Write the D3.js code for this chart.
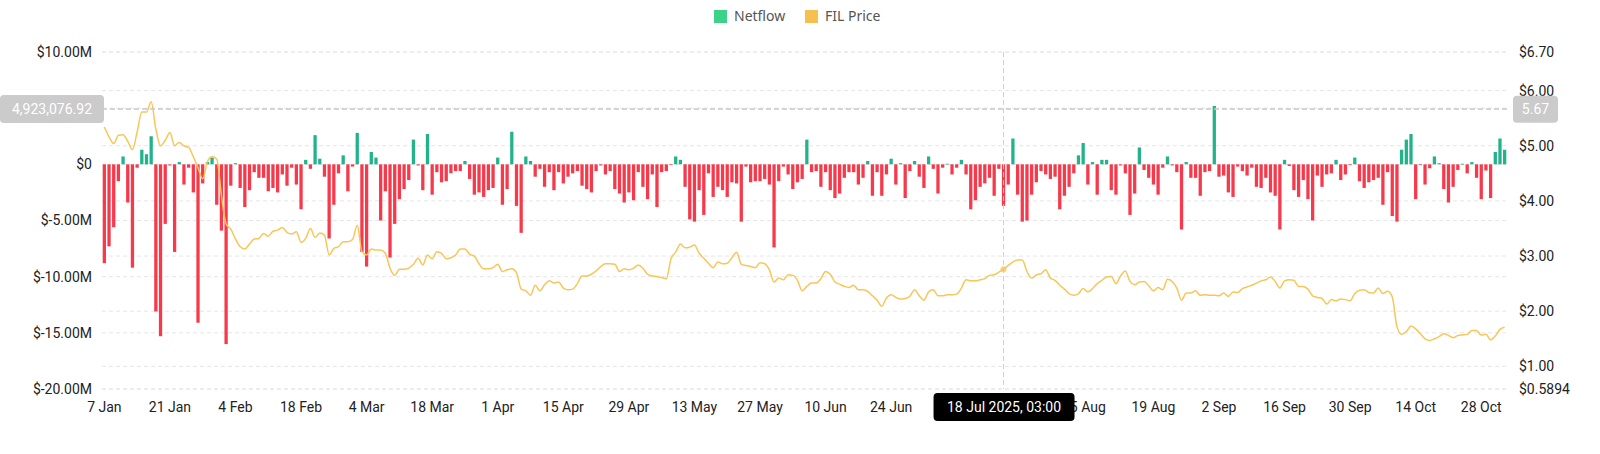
<!DOCTYPE html>
<html>
<head>
<meta charset="utf-8">
<script src="https://d3js.org/d3.v7.min.js"></script>
<style>
  html, body { margin: 0; padding: 0; background: #fff; }
  svg { display: block; }
  .axis text { font-family: Roboto, "DejaVu Sans", sans-serif; font-size: 14px; fill: #222; }
  .legend text { font-family: "Noto Sans", Inter, sans-serif; font-size: 14px; fill: #555; }
</style>
</head>
<body>
<svg width="1600" height="454"></svg>
<script>
// netflow per day, millions of USD (7 Jan 2025 .. 2 Nov 2025)
const netflow = [
  -8.8, -7.3, -5.6, -1.5, 0.7, -3.4, -9.2, -0.3, 1.3, 0.9,
  2.5, -13.1, -15.3, -5.3, -0.1, -7.8, 0.2, -1.8, -0.3, -2.5,
  -14.1, -1.7, 0.2, 0.6, -3.6, -5.9, -16.0, -1.9, 0.1, -2.1,
  -3.8, -2.3, -0.7, -1.2, -1.2, -2.4, -2.1, -2.5, -0.9, -1.9,
  -0.3, -1.8, -4.0, 0.4, -0.4, 2.6, 0.5, -1.1, -6.6, -3.6,
  -0.8, 0.8, -2.4, -0.2, 2.8, -7.8, -9.1, 1.1, 0.6, -5.0,
  -2.4, -8.3, -5.3, -3.1, -2.2, -1.4, 2.2, -0.1, -2.3, 2.7,
  -2.7, -0.7, -1.6, -1.5, -0.8, -0.6, -0.6, 0.3, -1.3, -2.7,
  -2.5, -2.9, -2.3, -2.1, 0.6, -3.6, -2.2, 2.9, -3.7, -6.1,
  0.7, 0.3, -1.1, -0.4, -2.0, -0.7, -2.3, -0.7, -1.7, -1.1,
  -0.8, -0.6, -1.9, -2.2, -2.5, -0.6, -0.1, -0.9, -0.6, -2.2,
  -2.6, -3.4, -2.5, -3.2, -0.7, -2.0, -3.1, -0.9, -3.8, -0.7,
  -0.6, -0.05, 0.7, 0.4, -2.0, -4.9, -5.1, -2.3, -4.5, -0.8,
  -2.9, -2.0, -2.3, -2.9, -1.6, -1.7, -5.1, -0.2, -1.6, -1.5,
  -1.5, -1.3, -1.8, -7.4, -1.5, -0.2, -0.9, -2.2, -1.6, -1.3,
  2.2, -0.7, -0.6, -2.0, -0.7, -2.3, -3.0, -2.6, -1.2, -0.7,
  -0.7, -1.8, -1.2, 0.3, -2.8, -0.7, -2.8, -0.9, 0.5, -1.8,
  0.1, -3.0, -0.6, 0.3, -1.1, -2.1, 0.7, -0.4, -2.6, -0.3,
  0.05, -0.9, -0.3, 0.4, -0.9, -4.0, -3.2, -2.0, -1.7, -1.2,
  -2.8, -0.4, -3.7, -1.8, 2.3, -2.7, -5.1, -5.0, -2.7, -1.6,
  -0.6, -0.9, -1.3, -1.1, -4.0, -2.8, -2.0, -0.8, 0.8, 1.9,
  -1.8, 0.2, -2.7, 0.4, 0.4, -2.3, -2.7, -0.1, -0.8, -4.5,
  -2.6, 1.5, -0.5, -1.2, -1.8, -2.7, -0.3, 0.7, -0.1, -0.7,
  -5.8, 0.2, -1.2, -1.2, -2.8, -0.7, -0.6, 5.2, -1.1, -1.0,
  -2.5, -2.9, -0.2, -0.6, -1.0, -0.3, -2.0, -2.1, -1.2, -2.5,
  -2.8, -5.8, 0.4, -0.15, -2.3, -2.9, -1.4, -3.1, -5.0, -1.0,
  -2.0, -0.9, -0.8, 0.4, -1.4, -0.9, -0.05, 0.6, -1.5, -2.1,
  -1.6, -1.4, -1.2, -3.6, -0.7, -4.6, -5.1, 1.3, 2.2, 2.7,
  -3.1, -0.05, -1.8, -0.35, 0.7, 0.1, -2.2, -3.4, -2.0, -0.5,
  0.05, -0.8, 0.2, -1.2, -3.1, -0.55, -3.0, 1.1, 2.3, 1.3
];

// FIL price per day, USD
const price = [
  5.34, 5.16, 5.04, 5.19, 5.20, 5.08, 4.93, 5.25, 5.61, 5.61,
  5.80, 5.30, 5.00, 5.10, 5.24, 5.00, 5.06, 5.00, 4.97, 4.80,
  4.60, 4.40, 4.71, 4.80, 4.76, 4.10, 3.58, 3.49, 3.31, 3.17,
  3.13, 3.22, 3.31, 3.32, 3.41, 3.36, 3.45, 3.47, 3.52, 3.43,
  3.40, 3.44, 3.25, 3.32, 3.50, 3.34, 3.42, 3.38, 3.02, 3.14,
  3.17, 3.26, 3.26, 3.30, 3.56, 3.08, 3.02, 3.13, 3.11, 3.11,
  3.05, 2.78, 2.65, 2.76, 2.76, 2.78, 2.85, 2.96, 2.84, 3.02,
  2.95, 3.08, 3.05, 2.95, 2.97, 3.02, 3.13, 3.13, 3.03, 3.00,
  2.86, 2.77, 2.77, 2.79, 2.85, 2.72, 2.75, 2.77, 2.70, 2.40,
  2.37, 2.29, 2.47, 2.37, 2.48, 2.55, 2.51, 2.53, 2.42, 2.39,
  2.40, 2.50, 2.64, 2.64, 2.67, 2.73, 2.81, 2.86, 2.86, 2.85,
  2.72, 2.77, 2.75, 2.78, 2.84, 2.78, 2.67, 2.64, 2.63, 2.61,
  2.59, 2.95, 3.07, 3.22, 3.15, 3.16, 3.20, 3.05, 2.96, 2.87,
  2.79, 2.89, 2.86, 2.87, 2.97, 3.07, 2.85, 2.83, 2.81, 2.79,
  2.88, 2.86, 2.75, 2.53, 2.60, 2.57, 2.66, 2.65, 2.56, 2.37,
  2.45, 2.51, 2.51, 2.59, 2.72, 2.67, 2.53, 2.49, 2.45, 2.43,
  2.47, 2.39, 2.39, 2.36, 2.28, 2.20, 2.09, 2.24, 2.30, 2.25,
  2.22, 2.23, 2.27, 2.39, 2.28, 2.20, 2.35, 2.39, 2.28, 2.28,
  2.30, 2.30, 2.31, 2.42, 2.57, 2.55, 2.55, 2.57, 2.59, 2.65,
  2.66, 2.71, 2.76, 2.83, 2.89, 2.93, 2.93, 2.72, 2.60, 2.66,
  2.68, 2.75, 2.60, 2.56, 2.47, 2.40, 2.32, 2.29, 2.32, 2.41,
  2.35, 2.41, 2.50, 2.56, 2.62, 2.63, 2.50, 2.64, 2.73, 2.54,
  2.48, 2.53, 2.54, 2.46, 2.37, 2.43, 2.39, 2.58, 2.54, 2.42,
  2.20, 2.33, 2.33, 2.37, 2.29, 2.30, 2.29, 2.29, 2.28, 2.33,
  2.27, 2.35, 2.34, 2.41, 2.44, 2.47, 2.51, 2.55, 2.57, 2.62,
  2.54, 2.42, 2.55, 2.57, 2.56, 2.45, 2.45, 2.40, 2.28, 2.25,
  2.23, 2.13, 2.21, 2.19, 2.22, 2.21, 2.19, 2.32, 2.38, 2.39,
  2.34, 2.33, 2.42, 2.32, 2.36, 2.26, 1.72, 1.58, 1.63, 1.73,
  1.68, 1.59, 1.50, 1.47, 1.50, 1.54, 1.59, 1.56, 1.52, 1.56,
  1.57, 1.58, 1.65, 1.65, 1.57, 1.58, 1.48, 1.55, 1.67, 1.71
];

const dates = d3.timeDay.range(new Date(2025, 0, 7), new Date(2025, 10, 3));

const xTickLabels = ["7 Jan", "21 Jan", "4 Feb", "18 Feb", "4 Mar", "18 Mar", "1 Apr",
  "15 Apr", "29 Apr", "13 May", "27 May", "10 Jun", "24 Jun", "8 Jul", "22 Jul",
  "5 Aug", "19 Aug", "2 Sep", "16 Sep", "30 Sep", "14 Oct", "28 Oct"];
const leftTicks = [10, 5, 0, -5, -10, -15, -20];
const rightTicks = [6.70, 6.00, 5.00, 4.00, 3.00, 2.00, 1.00, 0.5894];

// labels hidden under the hover boxes in the original
const hiddenXLabels = ["8 Jul", "22 Jul"];
const hiddenLeftTicks = [5];

const hoverIndex = 192;          // 18 Jul 2025
const hoverNetflow = 4923076.92; // horizontal crosshair position
const hoverPrice = 5.67;

const svg = d3.select("svg");
const plotLeft = 102, plotRight = 1507, plotTop = 52, plotBottom = 389;

const fmtDay = d3.timeFormat("%-d %b");

const x = d3.scaleBand()
  .domain(dates)
  .range([plotLeft, plotRight])
  .paddingInner(0.3)
  .paddingOuter(0.15);

const yL = d3.scaleLinear().domain([-20, 10]).range([plotBottom, plotTop]);
const yR = d3.scaleLinear().domain([0.5894, 6.70]).range([plotBottom, plotTop]);

// grid lines for both axes
const grid = svg.append("g");
grid.selectAll("line.gl")
  .data(leftTicks)
  .join("line")
  .attr("class", "gl")
  .attr("x1", plotLeft).attr("x2", plotRight)
  .attr("y1", d => yL(d)).attr("y2", d => yL(d))
  .attr("stroke", "#e6e6e6").attr("stroke-dasharray", "4,3");
grid.selectAll("line.gr")
  .data(rightTicks)
  .join("line")
  .attr("class", "gr")
  .attr("x1", plotLeft).attr("x2", plotRight)
  .attr("y1", d => yR(d)).attr("y2", d => yR(d))
  .attr("stroke", "#e6e6e6").attr("stroke-dasharray", "4,3");

// axes
const fmtLeft = v => v === 0 ? "$0" : "$" + v.toFixed(2) + "M";
const fmtRight = v => v === 0.5894 ? "$0.5894" : "$" + v.toFixed(2);

svg.append("g")
  .attr("class", "axis")
  .attr("transform", `translate(${plotLeft - 10},0)`)
  .call(d3.axisLeft(yL)
    .tickValues(leftTicks.filter(v => !hiddenLeftTicks.includes(v)))
    .tickFormat(fmtLeft).tickSize(0).tickPadding(0))
  .call(g => g.select(".domain").remove());

svg.append("g")
  .attr("class", "axis")
  .attr("transform", `translate(${plotRight + 12},0)`)
  .call(d3.axisRight(yR).tickValues(rightTicks).tickFormat(fmtRight).tickSize(0).tickPadding(0))
  .call(g => g.select(".domain").remove());

svg.append("g")
  .attr("class", "axis")
  .attr("transform", `translate(0,${plotBottom + 8})`)
  .call(d3.axisBottom(x)
    .tickValues(dates.filter(d => xTickLabels.includes(fmtDay(d)) && !hiddenXLabels.includes(fmtDay(d))))
    .tickFormat(fmtDay)
    .tickSize(0).tickPadding(5))
  .call(g => g.select(".domain").remove());

// bars
svg.append("g")
  .selectAll("rect")
  .data(netflow)
  .join("rect")
  .attr("x", (d, i) => x(dates[i]))
  .attr("width", x.bandwidth())
  .attr("y", d => yL(Math.max(0, d)))
  .attr("height", d => Math.max(0.8, Math.abs(yL(d) - yL(0))))
  .attr("fill", d => d >= 0 ? "#22b38b" : "#f6394b");

// price line
const line = d3.line()
  .x((d, i) => x(dates[i]) + x.bandwidth() / 2)
  .y(d => yR(d))
  .curve(d3.curveMonotoneX);

svg.append("path")
  .datum(price)
  .attr("d", line)
  .attr("fill", "none")
  .attr("stroke", "#f8c658")
  .attr("stroke-width", 1.5);

// crosshair
const cx = x(dates[hoverIndex]) + x.bandwidth() / 2;
const cy = yL(hoverNetflow / 1e6);

svg.append("line")
  .attr("x1", cx).attr("x2", cx).attr("y1", plotTop).attr("y2", plotBottom)
  .attr("stroke", "#cfcfcf").attr("stroke-dasharray", "5,3");
svg.append("line")
  .attr("x1", plotLeft).attr("x2", plotRight).attr("y1", cy).attr("y2", cy)
  .attr("stroke", "#c8c8c8").attr("stroke-width", 1.5).attr("stroke-dasharray", "5,3");

svg.append("circle")
  .attr("cx", cx).attr("cy", yR(price[hoverIndex]))
  .attr("r", 3)
  .attr("fill", "#f3c46a").attr("opacity", 0.8);

// crosshair labels
const labelFont = 'Roboto, "DejaVu Sans", sans-serif';

svg.append("rect")
  .attr("x", 0).attr("y", cy - 14).attr("width", 104).attr("height", 28)
  .attr("rx", 4).attr("fill", "#cbcbcb");
svg.append("text")
  .attr("x", 52).attr("y", cy)
  .attr("dy", "0.35em").attr("text-anchor", "middle")
  .attr("font-family", labelFont).attr("font-size", 14).attr("fill", "#fff")
  .text(d3.format(",.2f")(hoverNetflow));

svg.append("rect")
  .attr("x", 1513).attr("y", yR(hoverPrice) - 13).attr("width", 45).attr("height", 27)
  .attr("rx", 4).attr("fill", "#cbcbcb");
svg.append("text")
  .attr("x", 1535.5).attr("y", yR(hoverPrice))
  .attr("dy", "0.35em").attr("text-anchor", "middle")
  .attr("font-family", labelFont).attr("font-size", 14).attr("fill", "#fff")
  .text(hoverPrice.toFixed(2));

svg.append("rect")
  .attr("x", cx - 70).attr("y", 393).attr("width", 141).attr("height", 28)
  .attr("rx", 4).attr("fill", "#000");
svg.append("text")
  .attr("x", cx + 0.5).attr("y", 407)
  .attr("dy", "0.35em").attr("text-anchor", "middle")
  .attr("font-family", labelFont).attr("font-size", 14).attr("fill", "#fff")
  .text(d3.timeFormat("%-d %b %Y")(dates[hoverIndex]) + ", 03:00");

// legend
const legendItems = [
  { name: "Netflow", color: "#3dd28a", x: 714 },
  { name: "FIL Price", color: "#f5c04e", x: 805 }
];
const legend = svg.append("g").attr("class", "legend");
legend.selectAll("rect")
  .data(legendItems)
  .join("rect")
  .attr("x", d => d.x).attr("y", 10)
  .attr("width", 13).attr("height", 13)
  .attr("fill", d => d.color);
legend.selectAll("text")
  .data(legendItems)
  .join("text")
  .attr("x", d => d.x + 20).attr("y", 16.5)
  .attr("dy", "0.35em")
  .text(d => d.name);
</script>
</body>
</html>
